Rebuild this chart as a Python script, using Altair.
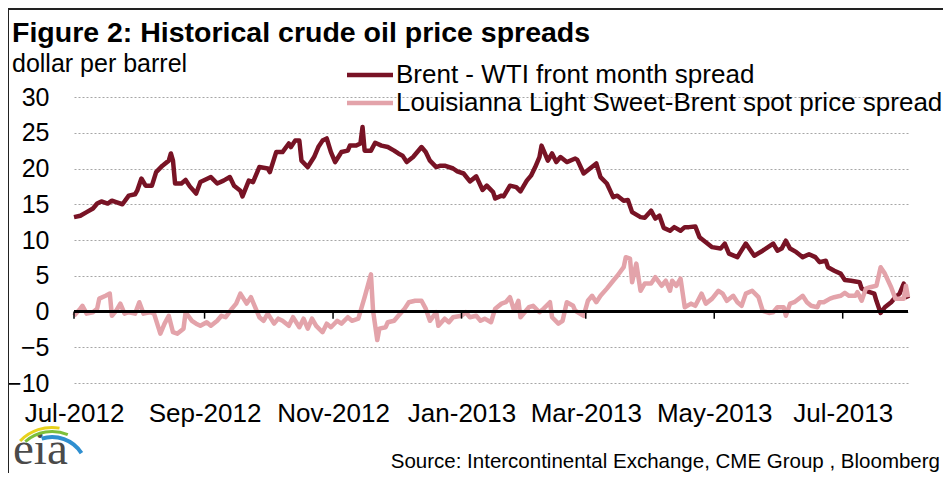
import altair as alt
import pandas as pd

# ---------------- data ----------------
start = pd.Timestamp("2012-07-01")

brent_day = [0, 3, 6, 9, 11, 13, 16, 18, 20, 23, 26, 29, 30, 32, 34, 37, 39, 42, 45, 46,
             47, 48, 51, 53, 55, 58, 60, 65, 68, 71, 74, 76, 79, 80, 83, 85, 88, 92, 93, 96,
             99, 102, 103, 105, 107, 108, 111, 114, 116, 118, 120, 122, 124, 127, 130, 131, 134, 136, 137, 138,
             141, 143, 146, 149, 152, 154, 156, 158, 161, 165, 167, 169, 172, 174, 176, 180, 182, 185, 188, 191,
             194, 196, 199, 200, 203, 204, 207, 210, 212, 215, 217, 219, 221, 222, 225, 227, 229, 231, 234, 238,
             239, 242, 245, 248, 250, 253, 256, 258, 261, 263, 265, 269, 271, 274, 276, 278, 280, 283, 285, 288,
             290, 292, 295, 297, 300, 303, 307, 309, 311, 315, 316, 319, 323, 327, 332, 334, 336, 338, 340, 343,
             346, 349, 352, 354, 357, 358, 361, 364, 366, 369, 373, 374, 376, 380, 381, 383, 385, 388, 390, 392,
             394, 395, 396]
brent_val = [13.2, 13.4, 13.9, 14.4, 15.1, 15.4, 15.1, 15.5, 15.3, 15.0, 16.2, 16.4, 16.9, 18.6, 17.6, 17.6, 19.5, 20.4, 21.1, 22.1,
             21.1, 17.9, 17.9, 18.4, 17.5, 16.5, 18.1, 18.8, 17.9, 18.3, 18.8, 17.6, 16.9, 16.1, 18.3, 18.1, 20.2, 20.0, 19.5, 22.3,
             22.3, 23.5, 23.0, 23.9, 23.9, 21.1, 20.2, 21.6, 23.0, 23.9, 24.2, 22.3, 20.9, 22.3, 22.5, 23.2, 23.2, 23.5, 25.8, 22.5,
             22.5, 23.6, 23.2, 23.0, 22.5, 22.1, 21.8, 20.9, 21.6, 23.0, 22.3, 21.1, 20.2, 20.4, 20.4, 20.0, 19.6, 19.3, 18.2, 18.9,
             17.0, 17.6, 16.7, 15.8, 16.2, 16.1, 17.6, 17.4, 16.8, 18.3, 19.0, 20.2, 21.6, 23.2, 21.1, 22.1, 20.9, 21.6, 20.9, 21.4,
             21.2, 19.3, 20.0, 20.7, 18.8, 17.9, 16.0, 16.2, 15.5, 15.6, 13.9, 13.2, 13.1, 14.1, 13.0, 13.4, 11.7, 11.3, 11.8, 11.3,
             11.8, 11.8, 11.9, 10.4, 9.7, 9.0, 8.8, 9.5, 8.1, 7.6, 8.1, 9.5, 7.8, 8.5, 9.5, 8.5, 8.8, 9.9, 8.8, 8.3,
             7.6, 8.0, 7.6, 6.9, 7.1, 6.2, 5.7, 5.3, 4.4, 4.3, 4.1, 3.2, 2.9, 2.5, 1.5, -0.2, 0.6, 1.3, 2.0, 2.5,
             3.9, 2.5, 1.8]

lls_day = [0, 3, 4, 6, 9, 11, 12, 15, 17, 18, 20, 22, 24, 26, 29, 31, 33, 36, 38, 41,
           43, 45, 47, 49, 52, 53, 56, 58, 60, 63, 65, 68, 70, 72, 75, 77, 79, 82, 84, 88,
           90, 92, 95, 97, 99, 102, 104, 107, 109, 111, 113, 115, 118, 120, 122, 125, 127, 130, 132, 135,
           138, 141, 142, 144, 145, 148, 149, 152, 154, 157, 159, 162, 165, 167, 169, 172, 173, 176, 178, 180,
           184, 186, 188, 191, 193, 195, 198, 200, 203, 205, 207, 209, 211, 212, 214, 216, 218, 221, 223, 226,
           227, 230, 232, 234, 237, 238, 242, 244, 246, 248, 250, 253, 256, 258, 261, 262, 264, 265, 267, 269,
           271, 274, 276, 279, 281, 283, 284, 286, 288, 290, 293, 295, 298, 300, 303, 306, 308, 310, 313, 315,
           317, 319, 322, 325, 327, 330, 332, 334, 337, 338, 340, 342, 346, 348, 350, 353, 354, 356, 359, 361,
           364, 366, 368, 371, 372, 374, 376, 378, 381, 383, 385, 388, 390, 392, 394, 395, 396]
lls_val = [-0.6, 0.4, 0.8, -0.3, -0.1, 0.4, 1.8, 2.2, 2.5, -0.6, 0.1, 1.1, -0.3, -0.1, -0.3, 1.3, -0.3, -0.1, -0.3, -3.1,
           -1.7, -0.6, -2.9, -3.1, -2.4, -0.1, -1.3, -1.7, -2.0, -1.5, -2.0, -1.3, -0.6, -0.8, 0.4, 1.1, 2.5, 1.1, 2.0, -0.8,
           -1.3, -0.3, -1.7, -1.0, -1.3, -2.0, -0.8, -2.2, -1.0, -2.4, -1.0, -2.0, -2.9, -1.7, -2.2, -1.3, -1.7, -0.8, -1.3, -1.0,
           2.0, 5.2, 0.1, -4.0, -2.4, -2.2, -1.5, -1.3, -0.6, 0.4, 1.3, 1.5, 1.5, 0.4, -1.3, -0.1, -2.0, -1.0, -1.5, -0.8,
           -0.6, -0.1, -0.8, -0.6, -1.3, -1.0, -1.5, 0.4, 1.1, 1.3, 2.0, 0.1, 1.5, -0.8, -0.1, 0.6, 0.8, -0.1, 0.4, 1.3,
           -0.8, -1.7, -1.3, 1.3, 0.8, 0.1, -0.6, 1.5, 2.2, 1.3, 2.2, 3.2, 4.3, 5.0, 6.2, 7.6, 7.4, 4.1, 6.7, 2.9,
           3.9, 3.9, 4.8, 3.6, 4.3, 2.9, 4.3, 3.6, 4.6, 0.6, 1.1, 0.8, 2.5, 1.1, 1.8, 2.9, 2.5, 1.5, 2.2, 1.3,
           0.8, 2.5, 2.9, 2.0, 0.1, -0.2, -0.1, 0.6, 0.6, -0.6, 1.1, 1.3, 2.2, 1.3, 0.8, 0.6, 1.3, 1.3, 1.8, 2.0,
           2.2, 2.6, 2.2, 2.2, 2.7, 1.5, 3.2, 3.4, 3.6, 6.2, 5.3, 3.4, 1.8, 1.8, 1.8, 3.6, 2.0]

series_names = ["Brent - WTI  front month spread",
                "Louisianna Light Sweet-Brent spot price spread"]
series_colors = ["#781325", "#e3a3aa"]

y_ticks = [30, 25, 20, 15, 10, 5, 0, -5, -10]
x_tick_dates = ["2012-07-01", "2012-09-01", "2012-11-01", "2013-01-01",
                "2013-03-01", "2013-05-01", "2013-07-01"]
x_end = (2013, 8, 1)

title_text = "Figure 2: Historical crude oil price spreads"
unit_text = "dollar per barrel"
source_text = "Source:  Intercontinental Exchange, CME Group , Bloomberg"
logo_text = "eia"

FONT = "Liberation Sans"


def to_dates(days):
    return [(start + pd.Timedelta(days=int(d))).strftime("%Y-%m-%d") for d in days]


brent_df = pd.DataFrame({"date": to_dates(brent_day), "value": brent_val})
lls_df = pd.DataFrame({"date": to_dates(lls_day), "value": lls_val})
tick_df = pd.DataFrame({"date": x_tick_dates, "value": [0] * len(x_tick_dates),
                        "low": [-1] * len(x_tick_dates)})


def dt(s):
    y, m, d = (int(p) for p in s.split("-"))
    return alt.DateTime(year=y, month=m, date=d, utc=True)


x_scale = alt.Scale(type="utc",
                    domain=[dt(x_tick_dates[0]),
                            alt.DateTime(year=x_end[0], month=x_end[1], date=x_end[2], utc=True)])
y_scale = alt.Scale(domain=[-10, 30], nice=False, zero=False)

x_axis = alt.Axis(values=[dt(s) for s in x_tick_dates],
                  labelExpr="utcFormat(datum.value, '%b-%Y')",
                  title=None, ticks=False, domain=False, grid=False,
                  labelFontSize=26, labelFont=FONT, labelColor="#000000",
                  labelPadding=17, labelOverlap=False, labelFlush=False, labelBound=False)
y_axis = alt.Axis(values=y_ticks, tickCount=9, title=None, ticks=False, domain=False,
                  grid=True, gridDash=[2, 2], gridColor="#a6a6a6", gridWidth=1,
                  labelFontSize=25, labelFont=FONT, labelColor="#000000",
                  labelPadding=25, labelOverlap=False, labelBound=False, labelFlush=False)


def X():
    return alt.X("date:T", scale=x_scale, axis=x_axis)


def Y(field="value"):
    return alt.Y(f"{field}:Q", scale=y_scale, axis=y_axis)


brent_line = alt.Chart(brent_df).mark_line(
    color=series_colors[0], strokeWidth=4.5, strokeJoin="round"
).encode(x=X(), y=Y())

lls_line = alt.Chart(lls_df).mark_line(
    color=series_colors[1], strokeWidth=4.5, strokeJoin="round"
).encode(x=X(), y=Y())

zero_rule = alt.Chart(tick_df).mark_rule(
    color="#000000", strokeWidth=2
).encode(y=Y())

tick_marks = alt.Chart(tick_df).mark_rule(color="#000000", strokeWidth=1.5).encode(
    x=X(), y=Y(), y2="low:Q")

# ---------------- legend (manual, two rows) ----------------
leg_x0, leg_x1, leg_tx = 273, 319, 322
leg_rows = [-22, 6]
legend_layers = []
for name, col, yy in zip(series_names, series_colors, leg_rows):
    legend_layers.append(
        alt.Chart(pd.DataFrame({"n": [name]})).mark_rule(color=col, strokeWidth=4.5).encode(
            x=alt.value(leg_x0), x2=alt.value(leg_x1), y=alt.value(yy)))
    legend_layers.append(
        alt.Chart(pd.DataFrame({"n": [name]})).mark_text(
            align="left", baseline="middle", font=FONT, fontSize=26, color="#000000"
        ).encode(text="n:N", x=alt.value(leg_tx), y=alt.value(yy)))

# ---------------- texts ----------------
title_mark = alt.Chart(pd.DataFrame({"t": [title_text]})).mark_text(
    align="left", baseline="alphabetic", font=FONT, fontSize=28.5, fontWeight="bold", color="#000000"
).encode(text="t:N", x=alt.value(-62), y=alt.value(-55))

unit_mark = alt.Chart(pd.DataFrame({"t": [unit_text]})).mark_text(
    align="left", baseline="alphabetic", font=FONT, fontSize=25, color="#000000"
).encode(text="t:N", x=alt.value(-62), y=alt.value(-25))

source_mark = alt.Chart(pd.DataFrame({"t": [source_text]})).mark_text(
    align="right", baseline="alphabetic", font=FONT, fontSize=20.5, color="#000000"
).encode(text="t:N", x=alt.value(866), y=alt.value(371))

logo_mark = alt.Chart(pd.DataFrame({"t": [logo_text]})).mark_text(
    align="left", baseline="alphabetic", font="Liberation Serif", fontSize=47, color="#4a4a4a"
).encode(text="t:N", x=alt.value(-61), y=alt.value(367))

TWO_PI = 6.2832
arc_specs = [  # colour, inner r, outer r, theta, theta2
    ("#e8d21c", 43, 46, TWO_PI - 0.80, TWO_PI + 0.17),
    ("#7cbf3a", 39, 42, TWO_PI - 0.72, TWO_PI + 0.40),
    ("#2f8fd0", 33, 37, TWO_PI - 0.30, TWO_PI + 1.00),
]
arc_layers = []
for col, r2, r, t1, t2 in arc_specs:
    arc_layers.append(
        alt.Chart(pd.DataFrame({"a": [1]})).mark_arc(
            color=col, radius=r, radius2=r2, theta=t1, theta2=t2
        ).encode(x=alt.value(-22), y=alt.value(375)))

# frame lines (decoration)
frame_top = alt.Chart(pd.DataFrame({"a": [1]})).mark_rule(color="#222222", strokeWidth=2).encode(
    x=alt.value(-66), x2=alt.value(900), y=alt.value(-88))
frame_left = alt.Chart(pd.DataFrame({"a": [1]})).mark_rule(color="#222222", strokeWidth=2).encode(
    x=alt.value(-66), y=alt.value(-88), y2=alt.value(400))

chart = alt.layer(
    brent_line, lls_line, zero_rule, tick_marks,
    *legend_layers, title_mark, unit_mark, source_mark, logo_mark, *arc_layers,
    frame_top, frame_left
).properties(
    width=834, height=286,
    autosize=alt.AutoSizeParams(type="none"),
    padding={"left": 66, "top": 89, "right": 35, "bottom": 90},
    background="#ffffff",
).configure_view(stroke=None)

chart.save("out.html", embed_options={"renderer": "svg", "actions": False})
